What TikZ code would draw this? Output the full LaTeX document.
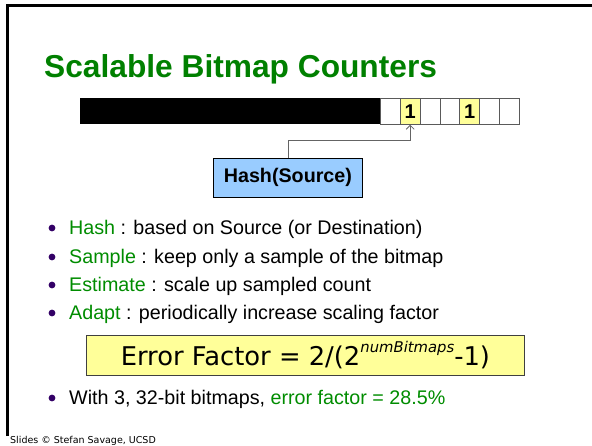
\documentclass[tikz,border=0pt]{standalone}
\usepackage{fontspec}
\setmainfont{Liberation Sans}
\newfontfamily\tahoma{DejaVu Sans}
\usetikzlibrary{arrows.meta}
\definecolor{titlegreen}{RGB}{0,128,0}
\definecolor{keygreen}{RGB}{0,140,0}
\definecolor{dotpurple}{RGB}{51,0,102}
\definecolor{cellyellow}{RGB}{255,255,153}
\definecolor{hashblue}{RGB}{153,204,255}
\definecolor{cellgray}{RGB}{90,90,90}
\definecolor{arrowgray}{RGB}{100,100,100}

\begin{document}
\begin{tikzpicture}[x=1pt,y=-1pt,
  bullettext/.style={anchor=base west, inner sep=0pt, font=\fontsize{19.7}{23}\selectfont},
  bulletdot/.style={fill=dotpurple},
  cellbox/.style={draw=cellgray, line width=0.8pt, minimum width=19.86pt, minimum height=26pt,
    inner sep=0pt, anchor=north west, font=\bfseries\fontsize{20}{24}\selectfont},
  onecell/.style={cellbox, fill=cellyellow},
  hashbox/.style={draw, line width=0.8pt, fill=hashblue, minimum width=149pt, minimum height=39pt,
    inner sep=0pt, anchor=north west, font=\bfseries\fontsize{19.7}{23}\selectfont},
  errbox/.style={draw=black!75, line width=0.8pt, fill=cellyellow, minimum width=438pt,
    text height=30pt, text depth=10pt,
    inner sep=0pt, anchor=north west, font=\tahoma\fontsize{25.8}{30}\selectfont},
  link/.style={draw=arrowgray, line width=0.8pt, -{Straight Barb[length=4pt,width=8pt]}},
  key/.style={text=keygreen}]
\useasboundingbox (0,0) rectangle (592,445);

% slide frame
\draw[line width=2.6pt] (7.5,436) -- (7.5,5.5) -- (600,5.5);

% title
\node[anchor=base west, inner sep=0pt, text=titlegreen, font=\bfseries\fontsize{31.7}{38}\selectfont]
  (title) at (44,77) {Scalable Bitmap Counters};

% bitmap: sampled-away part and visible cells
\fill (80,98) rectangle (380,124);
\foreach \i in {0,2,3,5,6} {
  \node[cellbox] (c\i) at (380+19.86*\i,98) {};
}
\node[onecell] (c1) at (380+19.86,98) {1};
\node[onecell] (c4) at (380+19.86*4,98) {1};

% hash function feeding a bit
\node[hashbox] (hash) at (213,158) {Hash(Source)};
\draw[link] (hash.north) -- ++(0,-18) -| (c1.south);

% bullet list
\foreach \y in {234,263,291,319,404} {
  \fill[bulletdot] (52,\y-6) circle (3.4);
}
\node[bullettext] (b1) at (69,234) {\textcolor{keygreen}{Hash} : based on Source (or Destination)};
\node[bullettext] (b2) at (69,263) {\textcolor{keygreen}{Sample} : keep only a sample of the bitmap};
\node[bullettext] (b3) at (69,291) {\textcolor{keygreen}{Estimate} : scale up sampled count};
\node[bullettext] (b4) at (69,319) {\textcolor{keygreen}{Adapt} : periodically increase scaling factor};

% error formula
\node[errbox] (err) at (86,335)
  {Error Factor = 2/(2\raisebox{12.5pt}{\fontsize{14.8}{17}\itshape numBitmaps}-1)};

\node[bullettext] (b5) at (69,404) {With 3, 32-bit bitmaps, \textcolor{keygreen}{error factor = 28.5\%}};

% footer
\node[anchor=base west, inner sep=0pt, font=\tahoma\fontsize{9.5}{11}\selectfont]
  (foot) at (10,443) {Slides © Stefan Savage, UCSD};
\end{tikzpicture}
\end{document}
